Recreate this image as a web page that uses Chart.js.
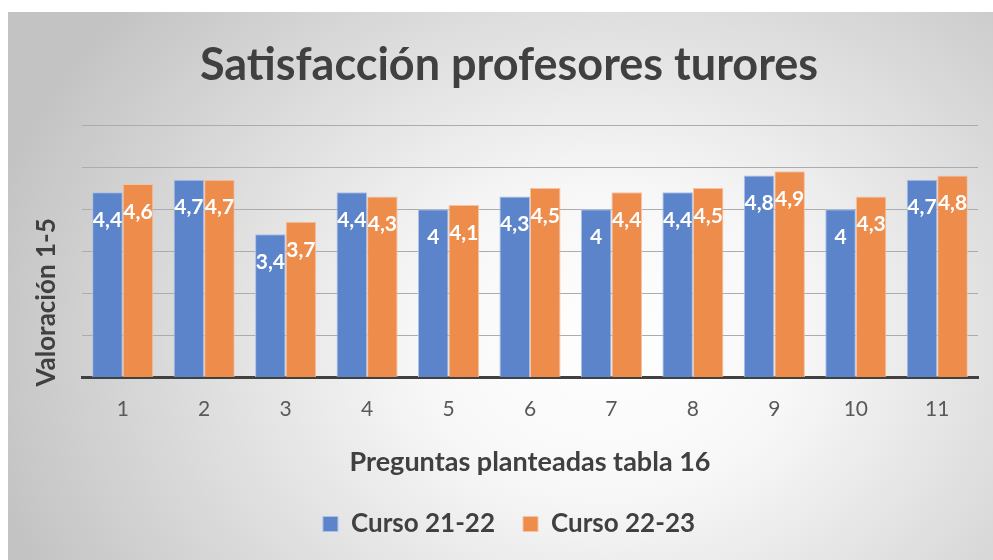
<!DOCTYPE html>
<html>
<head>
<meta charset="utf-8">
<script src="https://cdn.jsdelivr.net/npm/chart.js@4.4.1/dist/chart.umd.min.js"></script>
<style>
  html, body { margin: 0; padding: 0; background: #fff; }
  #fondo {
    position: absolute; left: 8px; top: 12px; width: 985px; height: 548px;
    background: radial-gradient(ellipse 640px 520px at 600px 330px, #ffffff 0%, #f7f7f7 30%, #c3c3c3 100%);
  }
  #grafico { position: absolute; left: 0; top: 0; }
</style>
</head>
<body>
<div id="fondo"></div>
<canvas id="grafico" width="993" height="560"></canvas>
<script>
const preguntas = ["1", "2", "3", "4", "5", "6", "7", "8", "9", "10", "11"]
const curso2122 = [4.4, 4.7, 3.4, 4.4, 4, 4.3, 4, 4.4, 4.8, 4, 4.7]
const curso2223 = [4.6, 4.7, 3.7, 4.3, 4.1, 4.5, 4.4, 4.5, 4.9, 4.3, 4.8]
const valorMax = 6

const FUENTE = "Lato, 'Open Sans', sans-serif"
const GRIS_TEXTO = "#404040"

// etiquetas de valor blancas dentro del extremo de cada barra (coma decimal)
const etiquetasValor = {
  id: "etiquetasValor",
  afterDatasetsDraw(chart) {
    const ctx = chart.ctx
    ctx.save()
    ctx.font = "bold 21px " + FUENTE
    ctx.fillStyle = "#ffffff"
    ctx.textAlign = "center"
    ctx.textBaseline = "middle"
    chart.data.datasets.forEach((ds, i) => {
      chart.getDatasetMeta(i).data.forEach((bar, j) => {
        const txt = String(ds.data[j]).replace(".", ",")
        ctx.fillText(txt, bar.x, bar.y + 28)
      })
    })
    ctx.restore()
  }
}

// título del eje Y, algo más abajo que el centro del área
const tituloEjeY = {
  id: "tituloEjeY",
  afterDraw(chart) {
    const ctx = chart.ctx
    const area = chart.chartArea
    ctx.save()
    ctx.translate(47, area.bottom - 75)
    ctx.rotate(-Math.PI / 2)
    ctx.font = "bold 26px " + FUENTE
    ctx.fillStyle = GRIS_TEXTO
    ctx.textAlign = "center"
    ctx.textBaseline = "middle"
    ctx.fillText("Valoración 1-5", 0, 0)
    ctx.restore()
  }
}

new Chart(document.getElementById("grafico"), {
  type: "bar",
  data: {
    labels: preguntas,
    datasets: [
      {
        label: "Curso 21-22",
        data: curso2122,
        backgroundColor: "#5b84cb",
        borderColor: "#a9c0e8",
        borderWidth: 1,
        categoryPercentage: 0.75,
        barPercentage: 1.0
      },
      {
        label: "Curso 22-23",
        data: curso2223,
        backgroundColor: "#ee8c4c",
        borderColor: "#f6c3a2",
        borderWidth: 1,
        categoryPercentage: 0.75,
        barPercentage: 1.0
      }
    ]
  },
  options: {
    responsive: false,
    animation: false,
    layout: { padding: { left: 40, right: 15, top: 0, bottom: 13 } },
    plugins: {
      title: {
        display: true,
        text: "Satisfacción profesores turores",
        color: GRIS_TEXTO,
        font: { family: FUENTE, size: 45, weight: "bold" },
        padding: { top: 38, bottom: 33 }
      },
      legend: {
        position: "bottom",
        labels: {
          color: GRIS_TEXTO,
          font: { family: FUENTE, size: 26, weight: "bold" },
          boxWidth: 15,
          boxHeight: 15,
          padding: 28
        }
      },
      tooltip: { enabled: false }
    },
    scales: {
      x: {
        grid: { display: false, drawTicks: false, tickLength: 0 },
        border: { display: true, color: "#404040", width: 3 },
        ticks: { color: "#595959", font: { family: FUENTE, size: 21 }, padding: 19 },
        title: {
          display: true,
          text: "Preguntas planteadas tabla 16",
          color: GRIS_TEXTO,
          font: { family: FUENTE, size: 27, weight: "bold" },
          padding: { top: 5, bottom: 5 }
        }
      },
      y: {
        min: 0,
        max: valorMax,
        afterFit(scale) { scale.width = 42 },
        ticks: { display: false, stepSize: 1 },
        grid: { color: "#acacac", lineWidth: 1, drawTicks: false, tickLength: 0 },
        border: { display: false }
      }
    }
  },
  plugins: [etiquetasValor, tituloEjeY]
})
</script>
</body>
</html>
